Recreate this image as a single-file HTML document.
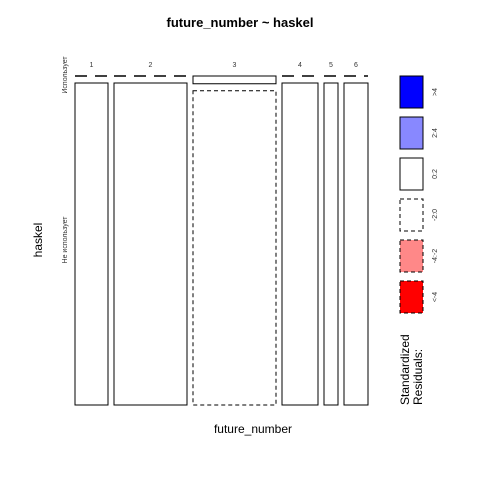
<!DOCTYPE html>
<html><head><meta charset="utf-8"><style>body{margin:0;background:#fff}svg{display:block;font-family:"Liberation Sans",sans-serif}</style></head>
<body>
<svg id="c" width="480" height="480">
<text x="240" y="27" text-anchor="middle" font-size="13" font-weight="bold">future_number ~ haskel</text>
<text x="253" y="433" text-anchor="middle" font-size="12">future_number</text>
<text transform="translate(42,240) rotate(-90)" text-anchor="middle" font-size="12">haskel</text>
<text transform="translate(67,75) rotate(-90)" text-anchor="middle" font-size="7" fill="#333">Использует</text>
<text transform="translate(67,240) rotate(-90)" text-anchor="middle" font-size="7" fill="#333">Не использует</text>
<g id="m"></g>
<g id="lg"></g>
<text transform="translate(409,405) rotate(-90)" font-size="12">Standardized</text>
<text transform="translate(422,405) rotate(-90)" font-size="12">Residuals:</text>
</svg>
<script>
const categories=["1","2","3","4","5","6"];
const usesCounts=[0,0,2,0,0,0];
const notUsesCounts=[33,73,81,36,14,24];
const legendLabels=[">4","2:4","0:2","-2:0","-4:-2","<-4"];
const legendFills=["#0000ff","#8888ff","#ffffff","#ffffff","#ff8888","#ff0000"];
const legendDash=[false,false,false,true,true,true];
const NS="http://www.w3.org/2000/svg";
function mk(t,a,p){const e=document.createElementNS(NS,t);for(const k in a)e.setAttribute(k,a[k]);p.appendChild(e);return e;}
const m=document.getElementById('m');
const x0=75,x1=368,gapX=6,y0=76,y1=405,gapY=7;
const tot=categories.map((c,i)=>usesCounts[i]+notUsesCounts[i]);
const N=tot.reduce((a,b)=>a+b,0);
const U=usesCounts.reduce((a,b)=>a+b,0);
const W=(x1-x0)-gapX*(categories.length-1), H=(y1-y0)-gapY;
function resid(o,e){return e>0?(o-e)/Math.sqrt(e):0;}
function style(r){let f="#fff";if(r>4)f="#0000ff";else if(r>2)f="#8888ff";else if(r<-4)f="#ff0000";else if(r<-2)f="#ff8888";return {fill:f,dash:r<0?"4,3":"none"};}
function tile(x,y,w,h,s,name){
  let e;
  if(h<0.5){e=mk('line',{x1:x,y1:y,x2:x+w,y2:y,stroke:'#000','stroke-width':1.5,'stroke-dasharray':s.dash==='none'?'none':'12,8'},m);}
  else e=mk('rect',{x:x,y:y,width:w,height:h,fill:s.fill,stroke:'#000','stroke-width':1,'stroke-dasharray':s.dash},m);
  
  
}
let x=x0;
categories.forEach((c,i)=>{
  const w=W*tot[i]/N;
  const hu=H*usesCounts[i]/tot[i];
  const t=mk('text',{x:x+w/2,y:67,'text-anchor':'middle','font-size':7,fill:'#333'},m);t.textContent=c;
  
  
  const eu=tot[i]*U/N, en=tot[i]*(N-U)/N;
  const su=style(resid(usesCounts[i],eu)), sn=style(resid(notUsesCounts[i],en));
  tile(x,y0,w,hu,su,'tile-uses-'+c);
  tile(x,y0+hu+gapY,w,H-hu,sn,'tile-not-uses-'+c);
  x+=w+gapX;
});
const lg=document.getElementById('lg');
legendLabels.forEach((l,i)=>{
  const y=76+i*41;
  const r=mk('rect',{x:400,y:y,width:23,height:32,fill:legendFills[i],stroke:'#000','stroke-width':1,'stroke-dasharray':legendDash[i]?'4,3':'none'},lg);
  
  
  const t=mk('text',{transform:`translate(437,${y+16}) rotate(-90)`,'text-anchor':'middle','font-size':7,fill:'#333'},lg);t.textContent=l;
  
  
});
</script>
</body></html>
